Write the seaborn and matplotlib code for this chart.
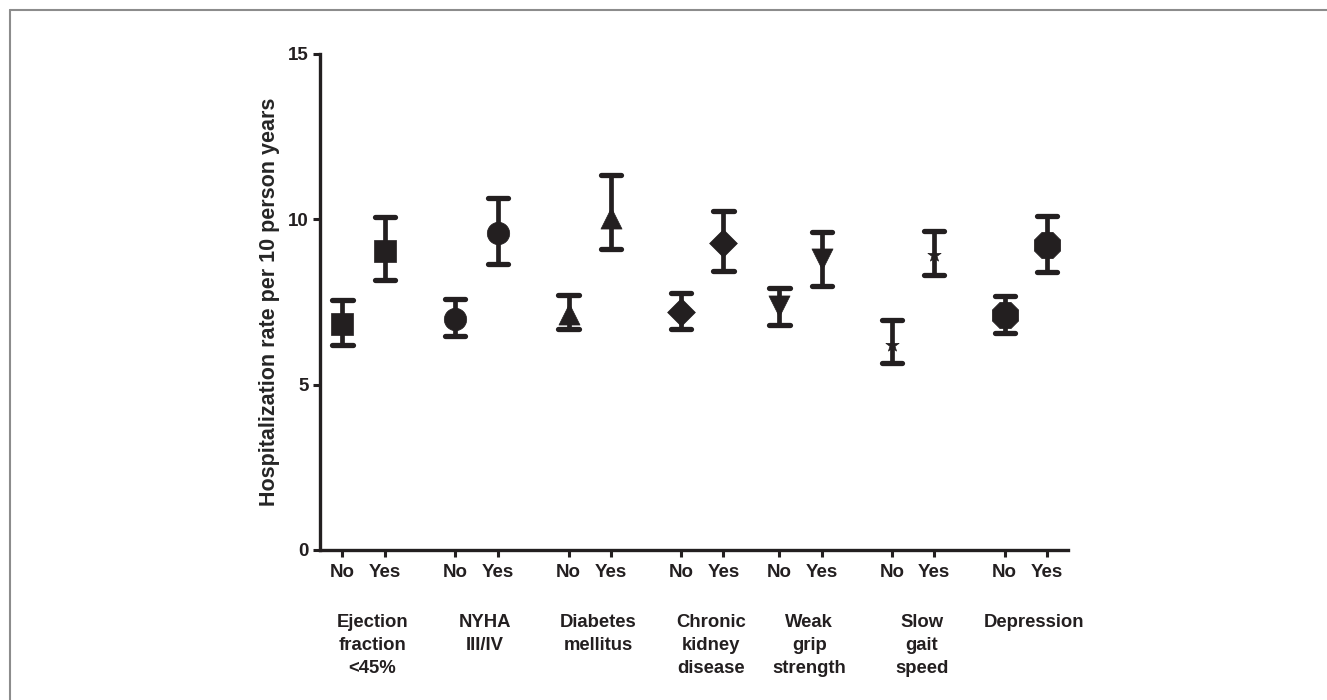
import numpy as np
import pandas as pd
import matplotlib
matplotlib.use("Agg")
import matplotlib.pyplot as plt
import seaborn as sns
from matplotlib.lines import Line2D

# ---------------------------------------------------------------
# data
# ---------------------------------------------------------------
factors = ["Ejection\nfraction\n<45%", "NYHA\nIII/IV", "Diabetes\nmellitus",
           "Chronic\nkidney\ndisease", "Weak\ngrip\nstrength", "Slow\ngait\nspeed",
           "Depression"]
levels = ["No", "Yes"]

rate_no = [6.84, 6.99, 7.14, 7.19, 7.39, 6.19, 7.11]
low_no = [6.21, 6.47, 6.67, 6.67, 6.79, 5.64, 6.57]
high_no = [7.55, 7.60, 7.70, 7.77, 7.93, 6.94, 7.67]

rate_yes = [9.05, 9.60, 10.05, 9.27, 8.80, 8.93, 9.22]
low_yes = [8.15, 8.65, 9.10, 8.43, 7.97, 8.33, 8.40]
high_yes = [10.08, 10.63, 11.34, 10.24, 9.62, 9.65, 10.11]

# ---------------------------------------------------------------
# layout
# ---------------------------------------------------------------
group_x = [0.0, 2.66, 5.33, 7.98, 10.30, 12.95, 15.61]
marker_list = ["s", "o", "^", "D", "v", "*", "8"]
marker_size = [230, 260, 230, 200, 230, 100, 420]
INK = "#231f20"

rows = []
for i, f in enumerate(factors):
    rows.append({"factor": f, "level": "No", "x": group_x[i],
                 "rate": rate_no[i], "low": low_no[i], "high": high_no[i]})
    rows.append({"factor": f, "level": "Yes", "x": group_x[i] + 1,
                 "rate": rate_yes[i], "low": low_yes[i], "high": high_yes[i]})
df = pd.DataFrame(rows)

sns.set_style("ticks")
plt.rcParams["font.family"] = ["Liberation Sans", "DejaVu Sans"]
plt.rcParams["font.weight"] = "bold"

fig = plt.figure(figsize=(13.27, 7.0), dpi=100)
ax = fig.add_axes([0.2412, 0.2143, 0.5636, 0.7086])

# error bars with rounded caps
ax.vlines(df["x"], df["low"], df["high"], color=INK, linewidth=3.4,
          capstyle="butt", zorder=2)
cap = 0.24
for col in ["low", "high"]:
    ax.hlines(df[col], df["x"] - cap, df["x"] + cap, color=INK,
              linewidth=3.8, capstyle="round", zorder=2)

# markers via seaborn, one call per factor
for i, f in enumerate(factors):
    sub = df[df["factor"] == f]
    sns.scatterplot(data=sub, x="x", y="rate", marker=marker_list[i],
                    s=marker_size[i], color=INK, edgecolor=INK, linewidth=0.5,
                    ax=ax, zorder=3, legend=False)

ax.set_xlim(-0.526, 17.10)
ax.set_ylim(0, 15)
ax.set_yticks([0, 5, 10, 15])
ax.set_xticks(df["x"])
ax.set_xticklabels(df["level"])
ax.set_xlabel("")
ax.set_ylabel("Hospitalization rate per 10 person years", fontsize=15.5,
              fontweight="bold")
ax.yaxis.set_label_coords(-0.067, 0.5)
ax.yaxis.label.set_va("center")

sns.despine(ax=ax)
for s in ["left", "bottom"]:
    ax.spines[s].set_linewidth(2.4)
    ax.spines[s].set_color(INK)
ax.tick_params(axis="both", width=2.2, length=5, color=INK,
               labelsize=13.5, labelcolor=INK, pad=3)
ax.tick_params(axis="x", pad=5)
for lab in ax.get_xticklabels() + ax.get_yticklabels():
    lab.set_fontweight("bold")

# group labels under the No/Yes pairs
trans = ax.get_xaxis_transform()
for i, f in enumerate(factors):
    ax.text(group_x[i] + 0.5 + 0.2, -0.129, f, transform=trans,
            ha="center", va="top", fontsize=13.3, fontweight="bold",
            color=INK, linespacing=1.45)

# thin grey frame on top and left as in the source panel
fig.add_artist(Line2D([10 / 1327, 1], [1 - 10 / 700, 1 - 10 / 700],
                      transform=fig.transFigure, color="#8c8c8c", linewidth=1.5))
fig.add_artist(Line2D([10 / 1327, 10 / 1327], [0, 1 - 10 / 700],
                      transform=fig.transFigure, color="#8c8c8c", linewidth=1.5))

fig.savefig("out.png", dpi=100)
